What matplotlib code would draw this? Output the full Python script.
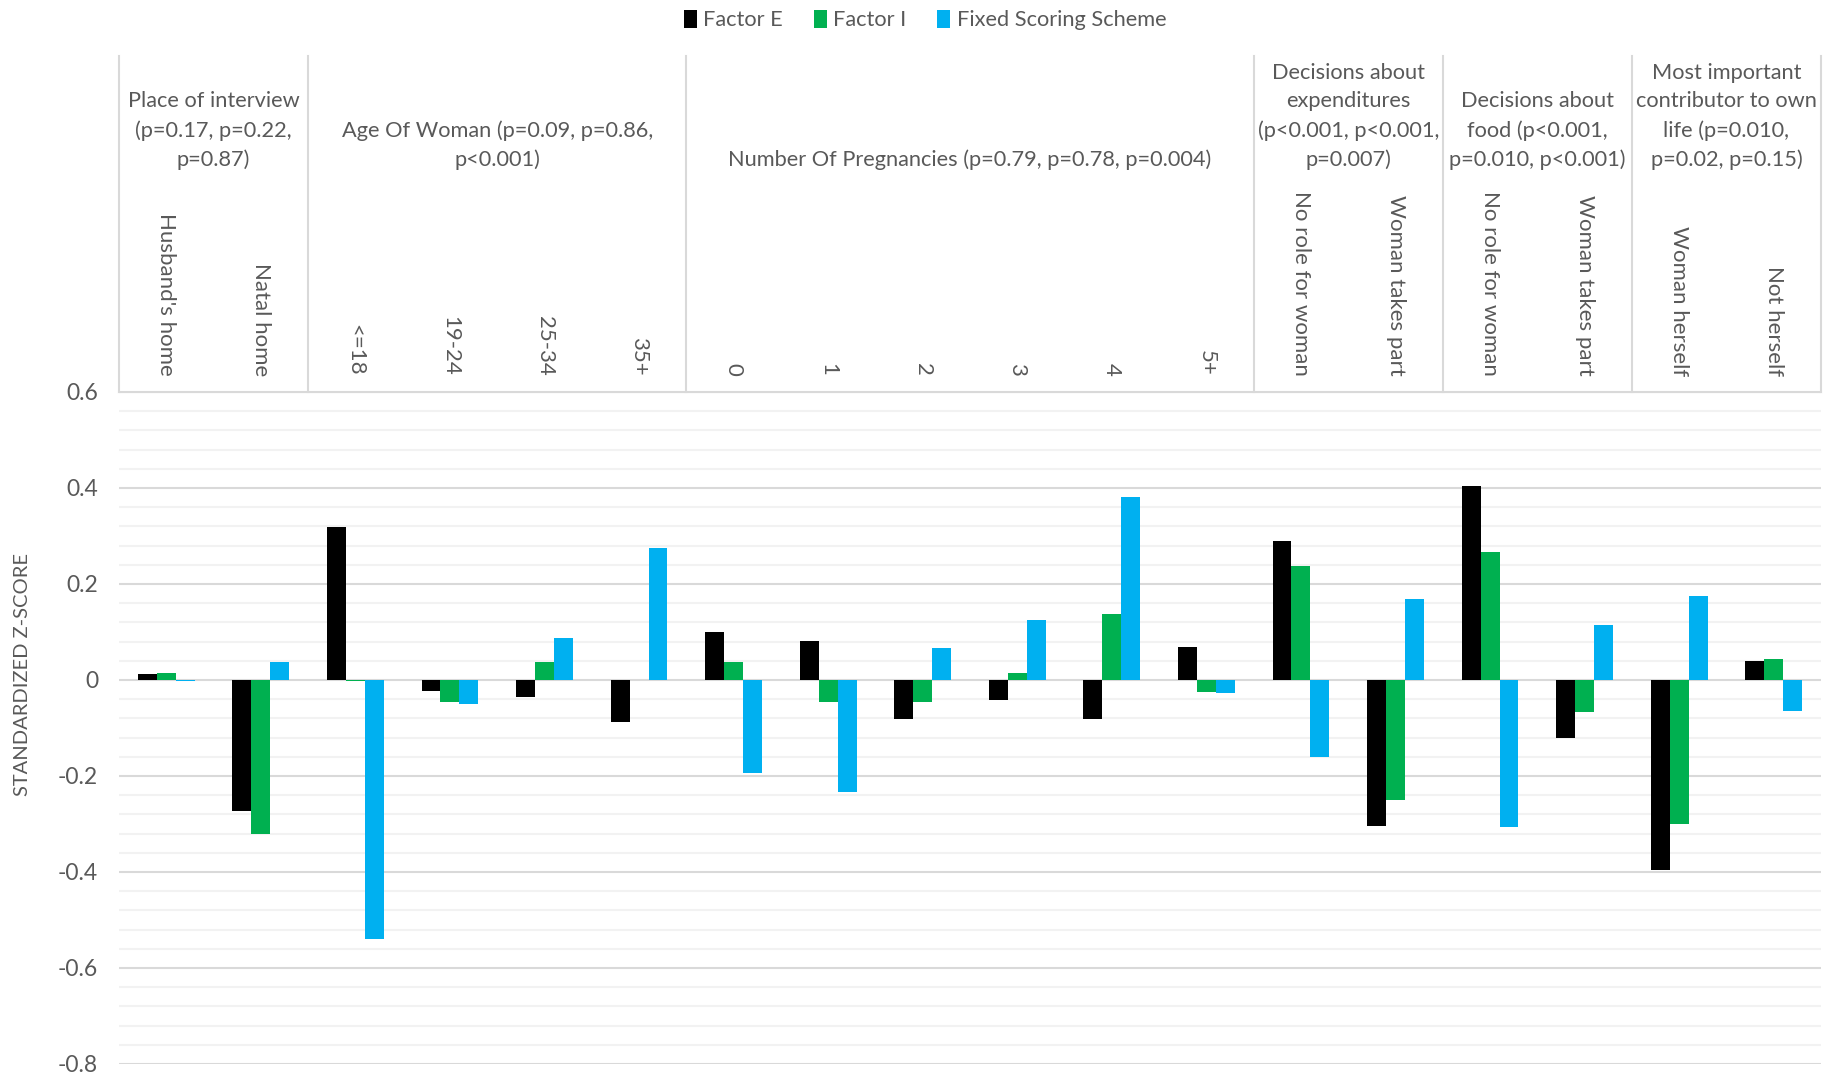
import matplotlib
matplotlib.use("Agg")
import matplotlib.pyplot as plt
import numpy as np

plt.rcParams['font.family'] = ['Lato', 'DejaVu Sans']

categories = ["Husband's home", "Natal home",
              "<=18", "19-24", "25-34", "35+",
              "0", "1", "2", "3", "4", "5+",
              "No role for woman", "Woman takes part",
              "No role for woman", "Woman takes part",
              "Woman herself", "Not herself"]

group_labels = ["Place of interview\n(p=0.17, p=0.22,\np=0.87)",
                "Age Of Woman (p=0.09, p=0.86,\np<0.001)",
                "Number Of Pregnancies (p=0.79, p=0.78, p=0.004)",
                "Decisions about\nexpenditures\n(p<0.001, p<0.001,\np=0.007)",
                "Decisions about\nfood (p<0.001,\np=0.010, p<0.001)",
                "Most important\ncontributor to own\nlife (p=0.010,\np=0.02, p=0.15)"]
group_sizes = [2, 4, 6, 2, 2, 2]

factor_e = [0.013, -0.272, 0.319, -0.022, -0.035, -0.087,
            0.100, 0.081, -0.081, -0.042, -0.082, 0.069,
            0.290, -0.304, 0.405, -0.120, -0.396, 0.039]
factor_i = [0.015, -0.321, -0.002, -0.046, 0.037, 0.001,
            0.037, -0.045, -0.045, 0.015, 0.138, -0.024,
            0.237, -0.249, 0.266, -0.067, -0.299, 0.044]
fixed_scoring = [-0.003, 0.038, -0.540, -0.051, 0.088, 0.276,
                 -0.193, -0.234, 0.067, 0.126, 0.381, -0.028,
                 -0.160, 0.168, -0.307, 0.115, 0.176, -0.065]

series_names = ["Factor E", "Factor I", "Fixed Scoring Scheme"]
colors = ["#000000", "#00B050", "#00B0F0"]
text_color = "#595959"

W, H = 1834, 1077
fig = plt.figure(figsize=(W / 100, H / 100), dpi=100)

left_px, right_px = 119, 1821
top_px, zero_top_px, bottom_px = 56, 392, 1064

ax = fig.add_axes([left_px / W, (H - bottom_px) / H,
                   (right_px - left_px) / W, (bottom_px - zero_top_px) / H])
n = len(categories)
x = np.arange(n)
bw = 0.2
for k, (vals, name, c) in enumerate(zip([factor_e, factor_i, fixed_scoring], series_names, colors)):
    ax.bar(x + (k - 1) * bw, vals, width=bw, color=c, label=name, zorder=3)

ax.set_xlim(-0.5, n - 0.5)
ax.set_ylim(-0.8, 0.6)
ax.set_yticks(np.round(np.arange(-0.8, 0.61, 0.2), 1))
ax.set_yticklabels(["-0.8", "-0.6", "-0.4", "-0.2", "0", "0.2", "0.4", "0.6"])
ax.set_yticks(np.round(np.arange(-0.8, 0.61, 0.04), 2), minor=True)
ax.grid(axis='y', which='major', color='#d9d9d9', linewidth=1.5, zorder=0)
ax.grid(axis='y', which='minor', color='#f2f2f2', linewidth=1.5, zorder=0)
ax.tick_params(axis='y', which='both', length=0, labelsize=16.5, labelcolor=text_color, pad=15)
ax.set_xticks([])
for s in ax.spines.values():
    s.set_visible(False)
ax.set_axisbelow(True)

fig.text(23 / W, 1 - 674 / H, "STANDARDIZED Z-SCORE", rotation=90, ha='center', va='center',
         color=text_color, fontsize=14.5)

# header axes
hax = fig.add_axes([left_px / W, (H - zero_top_px) / H,
                    (right_px - left_px) / W, (zero_top_px - top_px) / H])
hax.set_xlim(-0.5, n - 0.5)
hax.set_ylim(0, 1)
hax.axis('off')
bounds = np.concatenate([[0], np.cumsum(group_sizes)]) - 0.5
for b in bounds:
    hax.plot([b, b], [0, 1], color='#d9d9d9', linewidth=1.5, clip_on=False)
hax.plot([-0.5, n - 0.5], [0, 0], color='#d9d9d9', linewidth=1.5, clip_on=False)

hh = zero_top_px - top_px
for i, cat in enumerate(categories):
    hax.text(i, (zero_top_px - 376) / hh, cat, rotation=270, ha='center', va='bottom',
             fontsize=16, color=text_color)
for g, lab in enumerate(group_labels):
    cx = (bounds[g] + bounds[g + 1]) / 2
    hax.text(cx, (zero_top_px - 170) / hh, lab, ha='center', va='bottom', multialignment='center',
             fontsize=15.7, color=text_color, linespacing=1.53)

handles, labels = ax.get_legend_handles_labels()
fig.legend(handles, labels, loc='center', bbox_to_anchor=(925 / W, 1 - 20 / H), ncol=3,
           frameon=False, fontsize=15.7, handlelength=0.6, handleheight=0.9,
           handletextpad=0.3, columnspacing=1.4, labelcolor=text_color)

fig.savefig("out.png", dpi=100, facecolor='white')
